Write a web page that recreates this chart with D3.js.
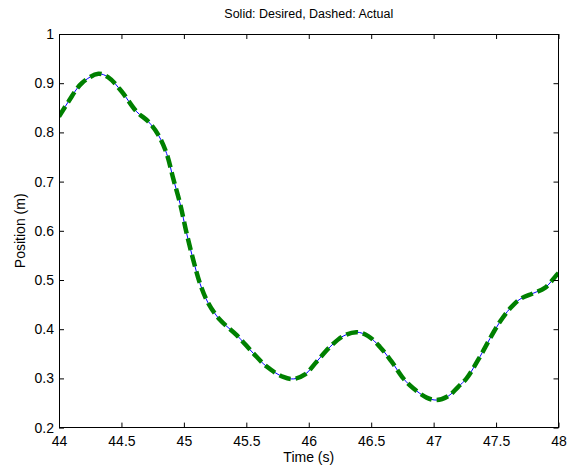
<!DOCTYPE html>
<html>
<head>
<meta charset="utf-8">
<script src="https://cdn.jsdelivr.net/npm/d3@7"></script>
<style>
    body { margin: 0; background: #fff; }
    svg { display: block; font-family: "Liberation Sans", Arial, Helvetica, sans-serif; }
</style>
</head>
<body>
<svg id="chart" width="575" height="468"></svg>
<script>
// time samples (s)
const time = [44.00, 44.074, 44.182, 44.315, 44.395, 44.502, 44.622, 44.715, 44.795, 44.862,
    44.915, 44.969, 45.022, 45.075, 45.129, 45.195, 45.289, 45.423, 45.556, 45.663,
    45.796, 45.88, 45.97, 46.063, 46.17, 46.276, 46.383, 46.476, 46.57, 46.664,
    46.757, 46.837, 46.944, 47.024, 47.117, 47.197, 47.264, 47.371, 47.451, 47.531,
    47.611, 47.691, 47.797, 47.891, 47.985, 48.00];
// desired position (m)
const desired = [0.832, 0.862, 0.900, 0.919, 0.912, 0.883, 0.842, 0.822, 0.795, 0.757,
    0.706, 0.656, 0.595, 0.541, 0.493, 0.453, 0.419, 0.388, 0.351, 0.324,
    0.303, 0.299, 0.308, 0.334, 0.364, 0.386, 0.394, 0.386, 0.364, 0.334,
    0.300, 0.280, 0.261, 0.256, 0.264, 0.283, 0.300, 0.344, 0.381, 0.415,
    0.442, 0.461, 0.473, 0.484, 0.510, 0.514];
// actual position (m) - sits on top of the desired one
const actual = [0.832, 0.862, 0.900, 0.919, 0.912, 0.883, 0.842, 0.822, 0.795, 0.757,
    0.706, 0.656, 0.595, 0.541, 0.493, 0.453, 0.419, 0.388, 0.351, 0.324,
    0.303, 0.299, 0.308, 0.334, 0.364, 0.386, 0.394, 0.386, 0.364, 0.334,
    0.300, 0.280, 0.261, 0.256, 0.264, 0.283, 0.300, 0.344, 0.381, 0.415,
    0.442, 0.461, 0.473, 0.484, 0.510, 0.514];
const xTicks = [44, 44.5, 45, 45.5, 46, 46.5, 47, 47.5, 48];
const yTicks = [0.2, 0.3, 0.4, 0.5, 0.6, 0.7, 0.8, 0.9, 1];

const margin = {top: 34, right: 16.5, bottom: 40.4, left: 59};
const width = 575 - margin.left - margin.right;
const height = 468 - margin.top - margin.bottom;
const tickLen = 5;

const svg = d3.select("#chart");
const g = svg.append("g").attr("transform", `translate(${margin.left},${margin.top})`);

const x = d3.scaleLinear().domain([44, 48]).range([0, width]);
const y = d3.scaleLinear().domain([0.2, 1]).range([height, 0]);

g.append("clipPath").attr("id", "plot-clip")
    .append("rect").attr("width", width).attr("height", height);

const line = d3.line()
    .x(d => x(d[0]))
    .y(d => y(d[1]))
    .curve(d3.curveCatmullRom.alpha(0.5));

const plot = g.append("g").attr("clip-path", "url(#plot-clip)");

plot.append("path")
    .datum(d3.zip(time, desired))
    .attr("d", line)
    .attr("fill", "none")
    .attr("stroke", "#0000ff")
    .attr("stroke-width", 1);

plot.append("path")
    .datum(d3.zip(time, actual))
    .attr("d", line)
    .attr("fill", "none")
    .attr("stroke", "#008000")
    .attr("stroke-width", 4.5)
    .attr("stroke-dasharray", "12,5");

// axes: ticks point inward on every side
const fmt = d => d3.format("")(d);
g.append("g")
    .attr("transform", `translate(0,${height})`)
    .call(d3.axisBottom(x).tickValues(xTicks).tickSizeInner(-tickLen).tickSizeOuter(0).tickPadding(8).tickFormat(fmt))
    .call(a => a.select(".domain").remove());
g.append("g")
    .call(d3.axisTop(x).tickValues(xTicks).tickSizeInner(-tickLen).tickSizeOuter(0).tickFormat(""))
    .call(a => a.select(".domain").remove());
g.append("g")
    .call(d3.axisLeft(y).tickValues(yTicks).tickSizeInner(-tickLen).tickSizeOuter(0).tickPadding(5).tickFormat(fmt))
    .call(a => a.select(".domain").remove());
g.append("g")
    .attr("transform", `translate(${width},0)`)
    .call(d3.axisRight(y).tickValues(yTicks).tickSizeInner(-tickLen).tickSizeOuter(0).tickFormat(""))
    .call(a => a.select(".domain").remove());

g.selectAll(".tick text")
    .attr("font-size", 14)
    .attr("font-family", "Liberation Sans, Arial, sans-serif")
    .attr("fill", "#000");
g.selectAll(".tick line").attr("stroke", "#000");

g.append("rect")
    .attr("width", width).attr("height", height)
    .attr("fill", "none")
    .attr("stroke", "#000")
    .attr("stroke-width", 1)
    .attr("shape-rendering", "crispEdges");

svg.append("text")
    .attr("x", margin.left + width / 2)
    .attr("y", 18)
    .attr("text-anchor", "middle")
    .attr("font-size", 12.5)
    .text("Solid: Desired, Dashed: Actual");

svg.append("text")
    .attr("x", margin.left + width / 2)
    .attr("y", 462)
    .attr("text-anchor", "middle")
    .attr("font-size", 14)
    .text("Time (s)");

svg.append("text")
    .attr("transform", `translate(25,${margin.top + height / 2}) rotate(-90)`)
    .attr("text-anchor", "middle")
    .attr("font-size", 14)
    .text("Position (m)");
</script>
</body>
</html>
